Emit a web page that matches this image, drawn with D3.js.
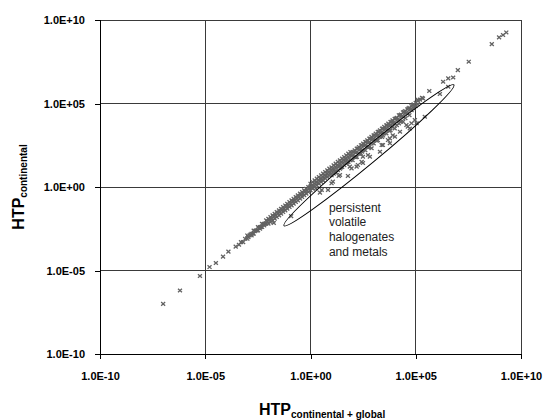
<!DOCTYPE html>
<html><head><meta charset="utf-8">
<script src="https://cdn.jsdelivr.net/npm/d3@7"></script>
<style>body{margin:0;background:#fff}svg{display:block}text{font-family:"Liberation Sans",Arial,sans-serif}</style>
</head><body><svg id="c" width="556" height="420"></svg>
<script>
// axis ticks
const tickValues = [1e-10, 1e-5, 1e0, 1e5, 1e10];
const tickLabels = ["1.0E-10", "1.0E-05", "1.0E+00", "1.0E+05", "1.0E+10"];

// [HTP continental+global, HTP continental]
const tailPoints = [[1e-7,1e-7],[6.3e-7,6.3e-7],[5.6e-6,4.7e-6],[1.6e-5,1.6e-5],[3.2e-5,2.8e-5],[7e-5,6.8e-5],[1.26e-4,1.35e-4],[2.8e-4,2.7e-4],[4e-4,3.5e-4]];

const bandPoints = [
[5e-4,5e-4],[6.3e-4,5e-4],[7.9e-4,7.9e-4],[1e-3,1.26e-3],[1e-3,7.9e-4],[1.26e-3,1.26e-3],[1.58e-3,1.58e-3],[1.58e-3,1.26e-3],[2e-3,2.5e-3],[2e-3,1.58e-3],[2.5e-3,2.5e-3],[3.2e-3,4e-3],[3.2e-3,2.5e-3],[4e-3,4e-3],[4e-3,3.2e-3],[5e-3,6.3e-3],[5e-3,4e-3],[6.3e-3,6.3e-3],[6.3e-3,5e-3],[7.9e-3,1e-2],[7.9e-3,6.3e-3],
[1.12e-3,1.0e-3],[1.41e-3,1.41e-3],[1.78e-3,1.58e-3],[2.24e-3,2.24e-3],[2.82e-3,2.51e-3],[3.55e-3,3.55e-3],[4.47e-3,4.0e-3],[5.62e-3,5.62e-3],[7.08e-3,6.31e-3],[8.91e-3,8.91e-3],
[1e-2,1.26e-2],[1e-2,6.3e-3],[1.26e-2,1.58e-2],[1.26e-2,7.9e-3],[1.58e-2,2e-2],[1.58e-2,1e-2],[2e-2,2.5e-2],[2e-2,1.26e-2],[2.5e-2,3.2e-2],[2.5e-2,1.58e-2],[3.2e-2,4e-2],[3.2e-2,2e-2],[4e-2,5e-2],[4e-2,2.5e-2],[5e-2,6.3e-2],[5e-2,3.2e-2],[6.3e-2,7.9e-2],[6.3e-2,4e-2],[7.9e-2,1e-1],[7.9e-2,5e-2],[1.8e-2,7e-3],
[1.12e-2,1.12e-2],[1.41e-2,1.26e-2],[1.78e-2,1.78e-2],[2.24e-2,2.0e-2],[2.82e-2,2.82e-2],[3.55e-2,3.16e-2],[4.47e-2,4.47e-2],[5.62e-2,5.0e-2],[7.08e-2,7.08e-2],[8.91e-2,7.94e-2],
[0.1,0.126],[0.1,0.063],[0.126,0.158],[0.126,0.079],[0.158,0.2],[0.158,0.1],[0.2,0.25],[0.2,0.126],[0.25,0.32],[0.25,0.158],[0.32,0.4],[0.32,0.2],[0.4,0.5],[0.4,0.25],[0.5,0.63],[0.5,0.32],[0.63,0.79],[0.63,0.4],[0.79,1.0],[0.79,0.5],
[0.112,0.1],[0.141,0.141],[0.178,0.158],[0.224,0.224],[0.282,0.251],[0.355,0.355],[0.447,0.398],[0.562,0.562],[0.708,0.631],[0.891,0.891],
[1,1.58],[1,1],[1,0.63],[1.26,2],[1.26,0.79],[1.58,2.5],[1.58,1.58],[1.58,1],[2,3.2],[2,1.26],[2.5,4],[2.5,2.5],[2.5,1.58],[3.2,5],[3.2,2],[4,6.3],[4,4],[4,2.5],[5,7.9],[5,3.2],[6.3,10],[6.3,6.3],[6.3,4],[7.9,12.6],[7.9,5],
[1.12,1.26],[1.41,1.12],[1.78,2.0],[2.24,1.78],[2.82,3.16],[3.55,2.82],[4.47,5.0],[5.62,4.47],[7.08,7.94],[8.91,7.08],
[10,15],[10,10],[10,5],[12.6,20],[12.6,6.3],[15.8,25],[15.8,15.8],[15.8,7.9],[20,32],[20,10],[25,40],[25,25],[25,12.6],[32,50],[32,16],[40,63],[40,40],[40,20],[50,79],[50,25],[63,100],[63,63],[63,32],[79,126],[79,40],
[11.2,12.6],[14.1,11.2],[17.8,20],[22.4,17.8],[28.2,31.6],[35.5,28.2],[44.7,50],[56.2,44.7],[70.8,79.4],[89.1,70.8],[14.1,8],[28.2,15],[56.2,30],
[100,126],[100,79],[100,40],[126,158],[126,63],[158,200],[158,126],[158,63],[200,250],[200,100],[250,320],[250,200],[250,100],[320,400],[320,160],[400,500],[400,320],[400,160],[500,630],[500,250],[630,790],[630,500],[630,250],[790,1000],[790,400],
[112,126],[141,112],[178,200],[224,178],[282,316],[355,282],[447,500],[562,447],[708,794],[891,708],[141,60],[282,130],[562,240],
[1e3,1.26e3],[1e3,790],[1e3,400],[1.26e3,1.58e3],[1.26e3,630],[1.58e3,2e3],[1.58e3,1.26e3],[1.58e3,630],[2e3,2.5e3],[2e3,1e3],[2.5e3,3.2e3],[2.5e3,2e3],[2.5e3,1e3],[3.2e3,4e3],[3.2e3,1.6e3],[4e3,5e3],[4e3,3.2e3],[4e3,1.6e3],[5e3,6.3e3],[5e3,2.5e3],[6.3e3,7.9e3],[6.3e3,5e3],[6.3e3,2.5e3],[7.9e3,1e4],[7.9e3,4e3],
[1120,1260],[1410,1120],[1780,2000],[2240,1780],[2820,3160],[3550,2820],[4470,5000],[5620,4470],[7080,7940],[8910,7080],[1410,600],[2820,1200],[5620,2300],
[1e4,1.2e4],[1e4,6.3e3],[1e4,3.2e3],[1.26e4,1.4e4],[1.26e4,5e3],[1.58e4,2e4],[1.58e4,1e4],[1.58e4,6.3e3],[2e4,2.2e4],[2e4,8e3],[2.5e4,3e4],[2.5e4,1.6e4],[2.5e4,8e3],[3.2e4,3.5e4],[3.2e4,1.3e4],[4e4,4.5e4],[4e4,2.5e4],[5e4,5.5e4],[5e4,2e4],[6.3e4,7e4],[6.3e4,4e4],[7.9e4,9e4],[7.9e4,5e4],
[1.12e4,1.26e4],[1.41e4,1.12e4],[1.78e4,2e4],[2.24e4,1.78e4],[2.82e4,3.16e4],[3.55e4,2.82e4],[4.47e4,5e4],[5.62e4,4.47e4],[7.08e4,7.94e4],[8.91e4,7.08e4],
[1e5,1.1e5],[1e5,7e4],[1.26e5,1.4e5],[1.26e5,9e4],[1.58e5,1.7e5],[2e5,2.2e5]
];

const ellipsePoints = [
[0.12,0.018],[1.8,0.83],[2.8,0.46],[3.4,0.66],[6.8,0.66],[10,1.66],[11.5,2.1],[22,4.6],[25,5.2],[60,4.6],[74,16.6],[89,13],[155,16.6],[178,21],[269,32],[309,27.5],[309,65],[537,83],[660,65],[794,209],
[2000,129],[2400,324],[2750,324],[4800,646],[5900,417],[5900,813],[8100,1260],[1.02e4,1020],[1.78e4,2040],[3.6e4,5100],[4.2e4,4100],[5.2e4,3200],[6.3e4,6500],[9.1e4,1.02e4],[1.1e5,6500],[2.7e5,1.6e4]
];

const upperPoints = [[1.26e5,1.66e5],[2.2e5,2.0e5],[4.4e5,5.6e5],[1.4e6,3.7e5],[2e6,2e6],[3.5e6,1e6],[3.5e6,3.2e6],[6e6,3.6e6],[1e7,1e7],[3.3e7,3.2e7],[4.1e8,3.6e8],[9.1e8,9.1e8],[1.4e9,1.26e9],[2e9,1.8e9]];

const ellipseEnds = [[0.055, 0.0048], [6.5e6, 1.3e6]];
const noteLines = ["persistent", "volatile", "halogenates", "and metals"];
const noteAnchor = [7.5, 0.034];

const svg = d3.select("#c");
const x = d3.scaleLog().domain([1e-10, 1e10]).range([100, 521]);
const y = d3.scaleLog().domain([1e-10, 1e10]).range([354, 20]);

// grid
const grid = svg.append("g").attr("shape-rendering", "crispEdges").attr("stroke", "#3a3a3a").attr("stroke-width", 1);
grid.selectAll("line.v").data(tickValues.slice(1)).join("line")
  .attr("x1", d => x(d)).attr("x2", d => x(d)).attr("y1", y(1e-10)).attr("y2", y(1e10));
grid.selectAll("line.h").data(tickValues.slice(1)).join("line").attr("class", "h")
  .attr("y1", d => y(d)).attr("y2", d => y(d)).attr("x1", x(1e-10)).attr("x2", x(1e10));

// points
const allPoints = [].concat(tailPoints, bandPoints, ellipsePoints, upperPoints);
svg.append("g").selectAll("path").data(allPoints).join("path")
  .attr("transform", d => `translate(${x(d[0])},${y(d[1])})`)
  .attr("d", "M-2,-1.8L2,1.8M-2,1.8L2,-1.8")
  .attr("stroke", "#626262").attr("stroke-width", 1.3).attr("fill", "none");

// ellipse annotation
const p1 = [x(ellipseEnds[0][0]), y(ellipseEnds[0][1])];
const p2 = [x(ellipseEnds[1][0]), y(ellipseEnds[1][1])];
const ang = Math.atan2(p2[1] - p1[1], p2[0] - p1[0]) * 180 / Math.PI;
svg.append("ellipse")
  .attr("transform", `translate(${(p1[0]+p2[0])/2},${(p1[1]+p2[1])/2}) rotate(${ang})`)
  .attr("rx", Math.hypot(p2[0]-p1[0], p2[1]-p1[1]) / 2).attr("ry", 8)
  .attr("fill", "none").attr("stroke", "#000").attr("stroke-width", 1);

svg.append("text").attr("x", x(noteAnchor[0])).attr("y", y(noteAnchor[1]))
  .attr("font-size", 12).attr("fill", "#222")
  .selectAll("tspan").data(noteLines).join("tspan")
  .attr("x", x(noteAnchor[0])).attr("dy", (d, i) => i ? 14.7 : 0).text(d => d);

// axes
const yAxis = d3.axisLeft(y).tickValues(tickValues).tickFormat((d, i) => tickLabels[i]).tickSize(5).tickPadding(10);
const xAxis = d3.axisBottom(x).tickValues(tickValues).tickFormat((d, i) => tickLabels[i]).tickSize(5).tickPadding(13);
const gy = svg.append("g").attr("transform", "translate(100,0)").call(yAxis);
const gx = svg.append("g").attr("transform", "translate(0,354)").call(xAxis);
[gx, gy].forEach(g => {
  g.select(".domain").attr("stroke", "#000").attr("shape-rendering", "crispEdges");
  g.selectAll(".tick line").attr("stroke", "#000").attr("shape-rendering", "crispEdges");
  g.selectAll("text").attr("font-size", 11).attr("font-weight", "bold").attr("fill", "#000")
    .attr("font-family", '"Liberation Sans",Arial,sans-serif');
});

// axis titles
const xt = svg.append("text").attr("x", 259).attr("y", 415).attr("font-weight", "bold").attr("fill", "#000");
xt.append("tspan").attr("font-size", 16).text("HTP");
xt.append("tspan").attr("font-size", 10).attr("dy", 3).text("continental + global");

const yt = svg.append("text").attr("transform", "translate(24,187) rotate(-90)").attr("text-anchor", "middle")
  .attr("font-weight", "bold").attr("fill", "#000");
yt.append("tspan").attr("font-size", 16).text("HTP");
yt.append("tspan").attr("font-size", 10).attr("dy", 3).text("continental");
</script></body></html>
